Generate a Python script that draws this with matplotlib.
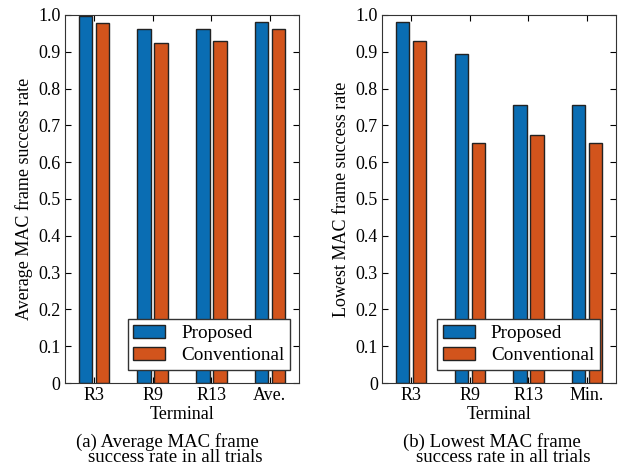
import numpy as np
import matplotlib.pyplot as plt
from matplotlib.ticker import FuncFormatter

# Success rates per terminal
avg_labels = ["R3", "R9", "R13", "Ave."]
avg_proposed = [0.998, 0.963, 0.961, 0.980]
avg_conventional = [0.978, 0.925, 0.930, 0.963]

low_labels = ["R3", "R9", "R13", "Min."]
low_proposed = [0.982, 0.894, 0.756, 0.756]
low_conventional = [0.928, 0.652, 0.673, 0.652]

plt.rcParams['font.family'] = ['Liberation Serif', 'DejaVu Serif']
plt.rcParams['font.size'] = 13

blue = '#0a6db3'
orange = '#d2541c'

fig = plt.figure(figsize=(6.18, 4.66), dpi=100)
ax1 = fig.add_axes([0.105, 0.178, 0.379, 0.790])
ax2 = fig.add_axes([0.618, 0.178, 0.379, 0.790])


def draw(ax, labels, prop, conv, ylabel, legend_right):
    x = np.arange(1, len(labels) + 1)
    w = 0.23
    ax.bar(x - 0.145, prop, w, color=blue, edgecolor='#222222', linewidth=1.0, label='Proposed')
    ax.bar(x + 0.145, conv, w, color=orange, edgecolor='#222222', linewidth=1.0, label='Conventional')
    ax.set_xlim(0.5, 4.5)
    ax.set_ylim(0, 1.0)
    ax.set_xticks(x)
    ax.set_xticklabels(labels)
    ax.set_yticks(np.arange(0, 1.01, 0.1))
    ax.yaxis.set_major_formatter(FuncFormatter(lambda v, p: '0' if v == 0 else f'{v:.1f}'))
    ax.tick_params(direction='in', top=True, right=True, length=4, width=0.8, pad=3)
    for s in ax.spines.values():
        s.set_linewidth(0.8)
        s.set_color('#333333')
    ax.set_xlabel('Terminal', labelpad=1)
    ax.set_ylabel(ylabel, labelpad=4)
    ax.legend(loc='lower right', fancybox=False, framealpha=1, edgecolor='#333333',
              fontsize=13.8, handlelength=1.67, handleheight=0.7, handletextpad=0.83,
              borderpad=0.3, labelspacing=0.25, borderaxespad=0,
              bbox_to_anchor=(legend_right, 0.035))


draw(ax1, avg_labels, avg_proposed, avg_conventional,
     'Average MAC frame success rate', 0.962)
draw(ax2, low_labels, low_proposed, low_conventional,
     'Lowest MAC frame success rate', 0.93)

# Sub-figure captions
W, H = 618, 466
fig.text(167 / W, 1 - 442 / H, '(a) Average MAC frame', ha='center', va='center', fontsize=13.5)
fig.text(175 / W, 1 - 458 / H, 'success rate in all trials', ha='center', va='center', fontsize=13.5)
fig.text(492 / W, 1 - 442 / H, '(b) Lowest MAC frame', ha='center', va='center', fontsize=13.5)
fig.text(503 / W, 1 - 458 / H, 'success rate in all trials', ha='center', va='center', fontsize=13.5)

fig.savefig('out.png', dpi=100)
